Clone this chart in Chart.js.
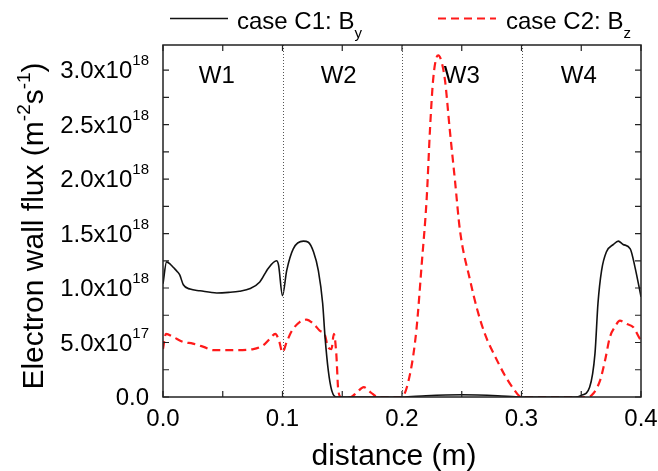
<!DOCTYPE html>
<html>
<head>
<meta charset="utf-8">
<title>Electron wall flux</title>
<script src="https://cdn.jsdelivr.net/npm/chart.js@4.4.0/dist/chart.umd.min.js"></script>
<style>
  html, body { margin: 0; padding: 0; background: #fff; }
  #wrap { width: 658px; height: 471px; }
</style>
</head>
<body>
<div id="wrap"><canvas id="chart" width="658" height="471"></canvas></div>
<script>
// distance along the wall (m) and electron wall flux (x10^18 m^-2 s^-1)
const distC1 = [0.000, 0.003, 0.006, 0.0086, 0.012, 0.014, 0.017, 0.0226, 0.031, 0.045, 0.055, 0.064, 0.073, 0.081, 0.088, 0.095, 0.0967, 0.100, 0.1035, 0.109, 0.1175, 0.1216, 0.126, 0.130, 0.1336, 0.1356, 0.1383, 0.1412, 0.145, 0.150, 0.200, 0.220, 0.250, 0.280, 0.300, 0.345, 0.350, 0.357, 0.3615, 0.364, 0.367, 0.371, 0.377, 0.381, 0.385, 0.391, 0.395, 0.400];
const fluxC1 = [1.04, 1.24, 1.22, 1.19, 1.15, 1.12, 1.03, 0.99, 0.975, 0.955, 0.96, 0.97, 0.995, 1.055, 1.18, 1.25, 1.21, 0.93, 1.16, 1.36, 1.43, 1.42, 1.33, 1.16, 0.86, 0.55, 0.245, 0.06, 0.0, 0.0, 0.0, 0.012, 0.02, 0.012, 0.0, 0.0, 0.015, 0.09, 0.40, 0.86, 1.16, 1.33, 1.40, 1.43, 1.40, 1.36, 1.19, 0.92];

const distC2 = [0.000, 0.0025, 0.0086, 0.017, 0.025, 0.034, 0.042, 0.059, 0.0756, 0.084, 0.0895, 0.094, 0.097, 0.100, 0.1035, 0.108, 0.1146, 0.120, 0.126, 0.131, 0.1356, 0.138, 0.141, 0.143, 0.145, 0.1467, 0.149, 0.157, 0.162, 0.168, 0.174, 0.180, 0.1997, 0.2067, 0.212, 0.2165, 0.2207, 0.2234, 0.226, 0.229, 0.2304, 0.233, 0.236, 0.240, 0.2443, 0.2485, 0.257, 0.263, 0.270, 0.278, 0.286, 0.293, 0.300, 0.355, 0.3587, 0.3657, 0.370, 0.374, 0.378, 0.3824, 0.388, 0.3936, 0.399, 0.400];
const fluxC2 = [0.44, 0.58, 0.55, 0.505, 0.49, 0.46, 0.43, 0.43, 0.44, 0.475, 0.535, 0.58, 0.52, 0.41, 0.505, 0.61, 0.69, 0.71, 0.67, 0.61, 0.565, 0.46, 0.44, 0.58, 0.40, 0.06, 0.0, 0.0, 0.04, 0.09, 0.04, 0.0, 0.0, 0.21, 0.61, 1.22, 1.83, 2.45, 2.905, 3.12, 3.135, 3.08, 2.905, 2.45, 1.99, 1.53, 1.07, 0.80, 0.56, 0.37, 0.20, 0.08, 0.0, 0.0, 0.015, 0.15, 0.34, 0.55, 0.64, 0.70, 0.67, 0.64, 0.535, 0.52];

const yTickValues = [0, 0.5, 1.0, 1.5, 2.0, 2.5, 3.0];
const yTickMain = ["0.0", "5.0x10", "1.0x10", "1.5x10", "2.0x10", "2.5x10", "3.0x10"];
const yTickExp = ["", "17", "18", "18", "18", "18", "18"];

const wallEdges = [0.1, 0.2, 0.3];
const wallNames = ["W1", "W2", "W3", "W4"];
const wallCenters = [0.045, 0.147, 0.25, 0.348];

const FONT = "'Liberation Sans', Arial, Helvetica, sans-serif";

function toPoints(xs, ys) {
  return xs.map((x, i) => ({ x: x, y: ys[i] }));
}

// draws text pieces one after another (for sub/superscripts)
function richText(ctx, x, y, parts) {
  parts.forEach(p => {
    ctx.font = p.size + "px " + FONT;
    ctx.fillText(p.text, x, y + (p.dy || 0));
    x += ctx.measureText(p.text).width;
  });
  return x;
}
function richWidth(ctx, parts) {
  let w = 0;
  parts.forEach(p => {
    ctx.font = p.size + "px " + FONT;
    w += ctx.measureText(p.text).width;
  });
  return w;
}

const decorations = {
  id: "decorations",
  afterDatasetsDraw(chart) {
    const ctx = chart.ctx;
    const area = chart.chartArea;
    const xs = chart.scales.x;
    const ys = chart.scales.y;
    ctx.save();

    // wall boundaries
    ctx.strokeStyle = "#555";
    ctx.lineWidth = 1;
    ctx.setLineDash([1, 2]);
    wallEdges.forEach(v => {
      const px = Math.round(xs.getPixelForValue(v)) + 0.5;
      ctx.beginPath();
      ctx.moveTo(px, area.top);
      ctx.lineTo(px, area.bottom);
      ctx.stroke();
    });
    ctx.setLineDash([]);

    // frame
    ctx.strokeStyle = "#222";
    ctx.lineWidth = 1.5;
    ctx.strokeRect(area.left, area.top, area.right - area.left, area.bottom - area.top);

    // inward ticks
    ctx.lineWidth = 1.2;
    ctx.beginPath();
    for (let i = 0; i <= 8; i++) {
      const px = xs.getPixelForValue(i * 0.05);
      ctx.moveTo(px, area.bottom); ctx.lineTo(px, area.bottom - 6);
      ctx.moveTo(px, area.top); ctx.lineTo(px, area.top + 6);
    }
    for (let i = 0; i <= 12; i++) {
      const py = ys.getPixelForValue(i * 0.25);
      ctx.moveTo(area.left, py); ctx.lineTo(area.left + 6, py);
      ctx.moveTo(area.right, py); ctx.lineTo(area.right - 6, py);
    }
    ctx.stroke();

    ctx.fillStyle = "#000";
    ctx.textBaseline = "alphabetic";
    ctx.textAlign = "left";

    // y tick labels with exponents
    yTickValues.forEach((v, i) => {
      const py = ys.getPixelForValue(v);
      const parts = [{ text: yTickMain[i], size: 24, dy: 0 }];
      if (yTickExp[i]) parts.push({ text: yTickExp[i], size: 15, dy: -13 });
      const w = richWidth(ctx, parts);
      richText(ctx, 149 - w, py + 8, parts);
    });

    // wall labels
    ctx.font = "24px " + FONT;
    ctx.textAlign = "center";
    wallNames.forEach((n, i) => {
      ctx.fillText(n, xs.getPixelForValue(wallCenters[i]), 83);
    });

    // x title
    ctx.font = "30px " + FONT;
    ctx.fillText("distance (m)", 394, 465);
    ctx.textAlign = "left";

    // y title
    const yParts = [
      { text: "Electron wall flux (m", size: 30, dy: 0 },
      { text: "-2", size: 19, dy: -13 },
      { text: "s", size: 30, dy: 0 },
      { text: "-1", size: 19, dy: -13 },
      { text: ")", size: 30, dy: 0 }
    ];
    const yw = richWidth(ctx, yParts);
    ctx.save();
    ctx.translate(43, (area.top + area.bottom) / 2 + 5);
    ctx.rotate(-Math.PI / 2);
    richText(ctx, -yw / 2, 0, yParts);
    ctx.restore();

    // legend
    chart.data.datasets.forEach((ds, i) => {
      const x0 = i === 0 ? 170 : 438;
      ctx.strokeStyle = ds.borderColor;
      ctx.lineWidth = ds.borderWidth;
      ctx.setLineDash(ds.borderDash || []);
      ctx.beginPath();
      ctx.moveTo(x0, 18.5);
      ctx.lineTo(x0 + 58, 18.5);
      ctx.stroke();
      ctx.setLineDash([]);
      ctx.fillStyle = "#000";
      richText(ctx, x0 + (i === 0 ? 67 : 68), 29, [
        { text: ds.label, size: 24, dy: 0 },
        { text: ds.sub, size: 15, dy: 9 }
      ]);
    });

    ctx.restore();
  }
};

new Chart(document.getElementById("chart"), {
  type: "line",
  data: {
    datasets: [
      {
        label: "case C1: B",
        sub: "y",
        data: toPoints(distC1, fluxC1),
        borderColor: "#111",
        borderWidth: 1.6,
        pointRadius: 0,
        cubicInterpolationMode: "monotone",
        fill: false
      },
      {
        label: "case C2: B",
        sub: "z",
        data: toPoints(distC2, fluxC2),
        borderColor: "#ff1a1a",
        borderWidth: 2.2,
        borderDash: [8, 5],
        pointRadius: 0,
        cubicInterpolationMode: "monotone",
        fill: false
      }
    ]
  },
  options: {
    responsive: false,
    animation: false,
    devicePixelRatio: 1,
    layout: { padding: { top: 45, right: 17, left: 0, bottom: 0 } },
    plugins: {
      legend: { display: false },
      tooltip: { enabled: false }
    },
    scales: {
      x: {
        type: "linear",
        min: 0,
        max: 0.4,
        grid: { display: false, drawTicks: false },
        border: { display: false },
        ticks: {
          stepSize: 0.1,
          autoSkip: false,
          maxRotation: 0,
          padding: 8,
          color: "#000",
          font: { size: 24, family: FONT },
          callback: v => v.toFixed(1)
        },
        afterFit: s => { s.height = 74; s.paddingLeft = 0; s.paddingRight = 0; }
      },
      y: {
        type: "linear",
        min: 0,
        max: 3.23,
        grid: { display: false, drawTicks: false },
        border: { display: false },
        ticks: { display: false },
        afterFit: s => { s.width = 163; }
      }
    }
  },
  plugins: [decorations]
});
</script>
</body>
</html>
